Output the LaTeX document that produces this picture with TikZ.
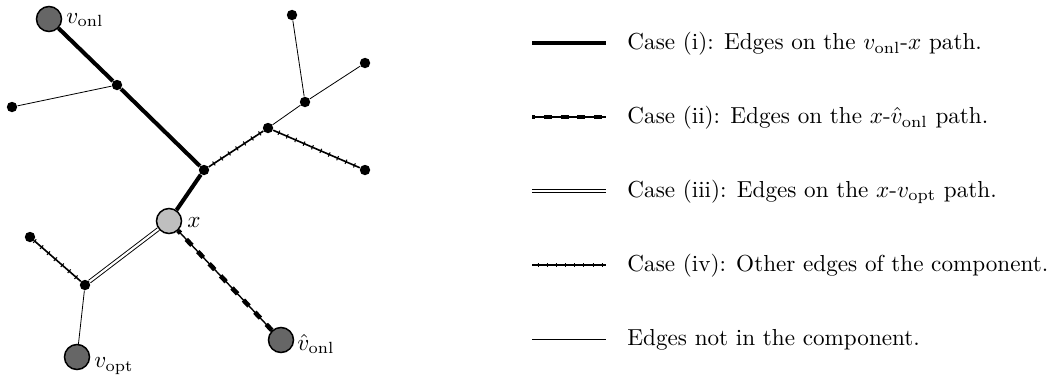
\documentclass[tikz,border=0pt]{standalone}
\begin{document}
\begin{tikzpicture}[x=0.432pt,y=-0.432pt,
  dot/.style={circle,fill=black,inner sep=0pt,minimum size=4.5pt},
  big/.style={circle,draw=black,line width=0.65pt,fill=black!60,inner sep=0pt,minimum size=10.8pt},
  xnode/.style={circle,draw=black,line width=0.65pt,fill=black!25,inner sep=0pt,minimum size=10.8pt},
  casei/.style={line width=1.75pt},
  caseii/.style={line width=0.6pt,postaction={draw,line width=2pt,dash pattern=on 3.5pt off 3.7pt,dash phase=2pt}},
  caseiii/.style={double,line width=0.4pt,double distance=0.95pt},
  caseiv/.style={line width=0.7pt,postaction={draw,line width=2pt,dash pattern=on 0.45pt off 3.5pt,dash phase=1.5pt}},
  notc/.style={line width=0.35pt},
  lbl/.style={anchor=west,inner sep=0pt}]
\useasboundingbox (0,0) rectangle (1052,379);
% nodes
\node[big] (von) at (49,19) {};
\node[dot] (a1) at (117,85) {};
\node[dot] (ll) at (12,107) {};
\node[dot] (b) at (204,170) {};
\node[xnode] (x) at (169,221) {};
\node[dot] (r1) at (268,128) {};
\node[dot] (r2) at (305,102) {};
\node[dot] (tl) at (292,15) {};
\node[dot] (rt) at (365,63) {};
\node[dot] (rl) at (365,170) {};
\node[dot] (lw) at (30,237) {};
\node[dot] (c) at (85,285) {};
\node[big] (vopt) at (77,357) {};
\node[big] (vh) at (281,340) {};
% labels
\node[lbl] (lvon) at (66,20) {$v_{\mathrm{onl}}$};
\node[lbl] (lx) at (187,223) {$x$};
\node[lbl] (lvh) at (297,344) {$\hat{v}_{\mathrm{onl}}$};
\node[lbl] (lvopt) at (94,366) {$v_{\mathrm{opt}}$};
% edges
\draw[casei] (von) -- (a1);
\draw[casei] (a1) -- (b);
\draw[casei] (b) -- (x);
\draw[notc] (a1) -- (ll);
\draw[caseiv] (b) -- (r1);
\draw[caseiv] (r1) -- (rl);
\draw[notc] (r1) -- (r2);
\draw[notc] (r2) -- (tl);
\draw[notc] (r2) -- (rt);
\draw[caseii] (x) -- (vh);
\draw[caseiii] (x) -- (c);
\draw[caseiv] (c) -- (lw);
\draw[notc] (c) -- (vopt);
% legend
\coordinate (p1a) at (532,43); \coordinate (p1b) at (606,43);
\coordinate (p2a) at (532,117); \coordinate (p2b) at (606,117);
\coordinate (p3a) at (532,191); \coordinate (p3b) at (606,191);
\coordinate (p4a) at (532,265); \coordinate (p4b) at (606,265);
\coordinate (p5a) at (532,339); \coordinate (p5b) at (606,339);
\draw[casei] (p1a) -- (p1b);
\draw[caseii] (p2a) -- (p2b);
\draw[caseiii] (p3a) -- (p3b);
\draw[caseiv] (p4a) -- (p4b);
\draw[notc] (p5a) -- (p5b);
\node[lbl] (t1) at (627,44) {Case (i): Edges on the $v_{\mathrm{onl}}$-$x$ path.};
\node[lbl] (t2) at (627,118) {Case (ii): Edges on the $x$-$\hat{v}_{\mathrm{onl}}$ path.};
\node[lbl] (t3) at (627,192) {Case (iii): Edges on the $x$-$v_{\mathrm{opt}}$ path.};
\node[lbl] (t4) at (627,266) {Case (iv): Other edges of the component.};
\node[lbl] (t5) at (627,340) {Edges not in the component.};
\end{tikzpicture}
\end{document}
